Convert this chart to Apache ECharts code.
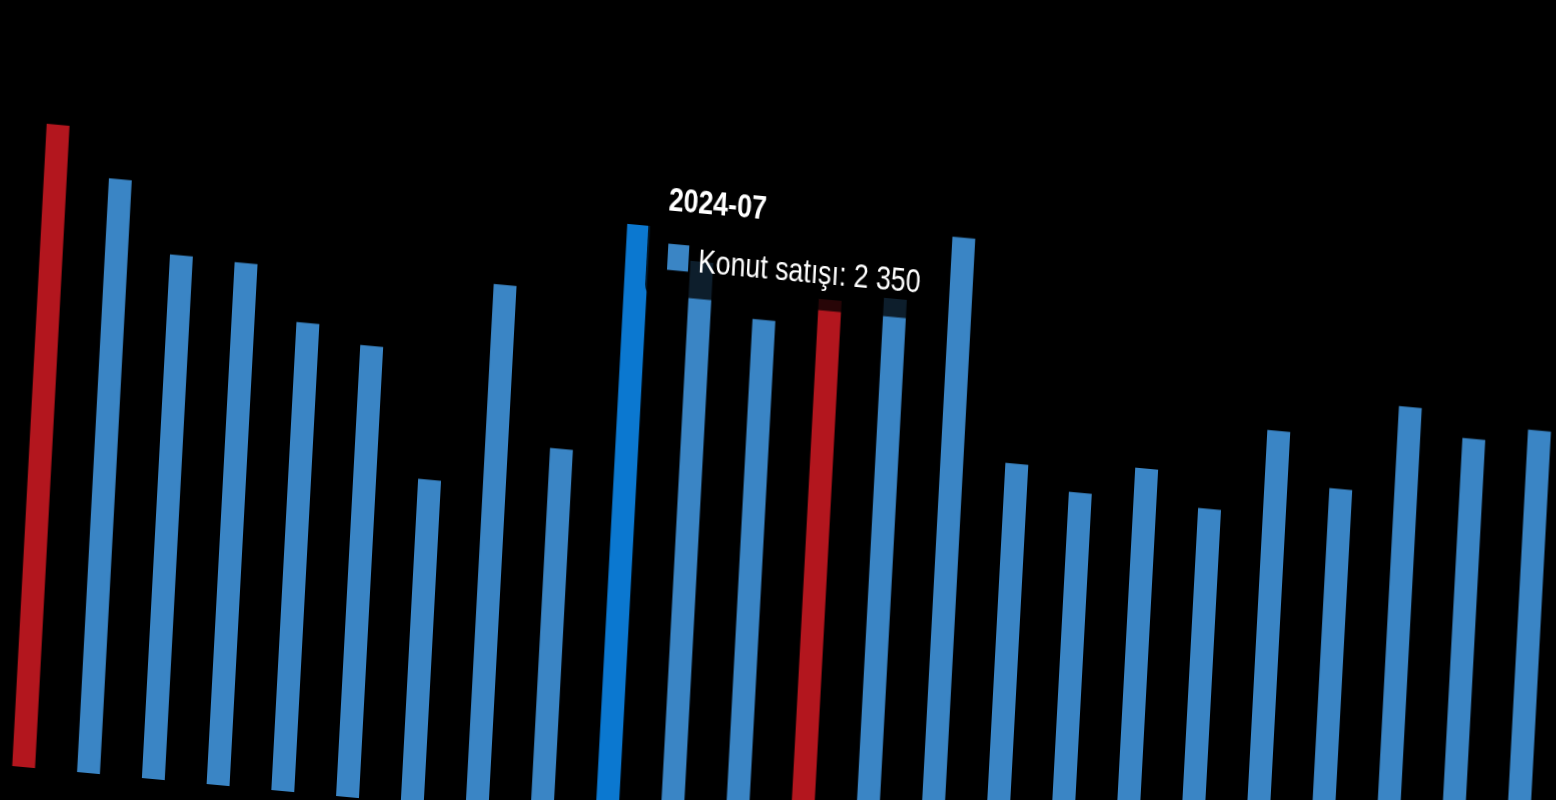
<!DOCTYPE html>
<html>
<head>
<meta charset="utf-8">
<script src="https://cdn.jsdelivr.net/npm/echarts@6/dist/echarts.min.js"></script>
<style>
  html, body { margin: 0; padding: 0; background: #000; width: 1556px; height: 800px; overflow: hidden; }
  #chart {
    position: absolute; left: 0; top: 0; width: 900px; height: 420px;
    transform-origin: 0 0;
    transform: matrix(1.906, 0.1765, -0.1277, 2.378, -36.61, -146.70);
  }
</style>
</head>
<body>
<div id="chart"></div>
<script>
// Monthly housing sales (Konut satışı)
const months = ['2023-10','2023-11','2023-12','2024-01','2024-02','2024-03','2024-04','2024-05','2024-06','2024-07','2024-08','2024-09',
                '2024-10','2024-11','2024-12','2025-01','2025-02','2025-03','2025-04','2025-05','2025-06','2025-07','2025-08','2025-09'];
const sales = [2532, 2341, 2064, 2058, 1845, 1778, 1274, 2066, 1443, 2350, 2228, 2023,
               2125, 2153, 2418, 1550, 1459, 1578, 1443, 1774, 1569, 1916, 1814, 1870];
const redMonths = ['2023-10', '2024-10'];
const tipMonth = '2024-07';
const seriesName = 'Konut satışı';

const BLUE = '#3a85c5', RED = '#b3161e', HI = '#0b78d0';
function fmt(v) { return String(v).replace(/\B(?=(\d{3})+(?!\d))/g, ' '); }

const chart = echarts.init(document.getElementById('chart'), null, { renderer: 'canvas', devicePixelRatio: 3 });
chart.setOption({
  backgroundColor: 'transparent',
  animation: false,
  grid: { left: 40, top: 60, width: 816, height: 320 },
  xAxis: { type: 'category', data: months, show: false },
  yAxis: { type: 'value', min: 0, max: 3000, show: false, splitLine: { show: false } },
  tooltip: {
    trigger: 'item',
    alwaysShowContent: true,
    transitionDuration: 0,
    position: [368, 99],
    backgroundColor: 'rgba(0,0,0,0.78)',
    borderWidth: 0,
    borderRadius: 4,
    padding: [10, 10, 8, 10],
    extraCssText: 'box-shadow:none;',
    textStyle: { color: '#fff', fontSize: 14, fontFamily: 'Liberation Sans, Arial, sans-serif' },
    formatter: function (p) {
      return '<div style="font-weight:bold;line-height:16px;color:#fff;">' + p.name + '</div>' +
        '<div style="margin-top:9px;line-height:16px;color:#fff;">' +
        '<span style="display:inline-block;width:11px;height:11px;margin-left:1px;margin-right:5px;background:' + BLUE + ';"></span>' +
        p.seriesName + ': ' + fmt(p.value) + '</div>';
    }
  },
  series: [{
    name: seriesName,
    type: 'bar',
    barWidth: 12,
    data: sales.map((v, i) => ({
      value: v,
      itemStyle: { color: redMonths.includes(months[i]) ? RED : BLUE }
    })),
    emphasis: { itemStyle: { color: HI } }
  }]
});
const idx = months.indexOf(tipMonth);
chart.dispatchAction({ type: 'highlight', seriesIndex: 0, dataIndex: idx });
chart.dispatchAction({ type: 'showTip', seriesIndex: 0, dataIndex: idx });
</script>
</body>
</html>
